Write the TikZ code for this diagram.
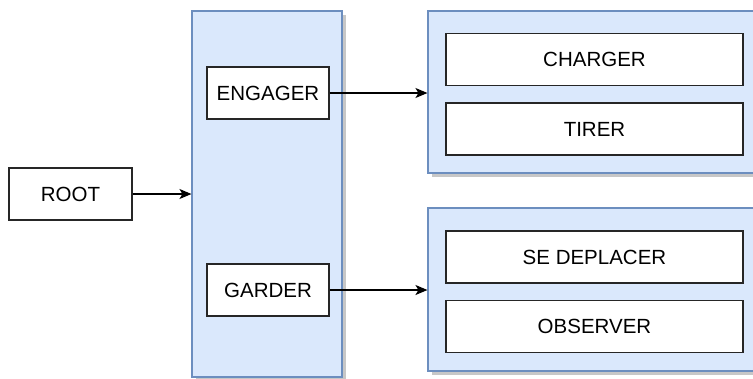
\documentclass[tikz,border=0pt]{standalone}
\usepackage{fontspec}
\setmainfont{Liberation Sans}
\usetikzlibrary{arrows.meta,positioning,shadows}

\definecolor{groupfill}{HTML}{DAE8FC}
\definecolor{groupline}{HTML}{6C8EBF}

\tikzset{
    task/.style={draw=black!85, line width=1.1pt, fill=white, inner sep=0pt,
        minimum height=52pt, text height=14.7pt, text depth=0pt,
        font=\fontsize{20.5}{24}\selectfont},
    group/.style={draw=groupline, fill=groupfill, line width=1.1pt, inner sep=0pt,
        drop shadow={shadow xshift=4pt, shadow yshift=-4pt, fill=black!22, opacity=1}},
    link/.style={-{Stealth[length=12pt,width=10pt,inset=3pt]}, line width=1.3pt}
}

\begin{document}
\begin{tikzpicture}[x=1pt,y=-1pt]
                \useasboundingbox (0,0) rectangle (753,378);

                % sequences
                \node[group, minimum width=150pt, minimum height=366pt] (seq) at (267,194) {};
                \node[group, minimum width=332pt, minimum height=162pt] (engseq) at (594,92) {};
                \node[group, minimum width=332pt, minimum height=163pt] (garseq) at (594,289.5) {};

                % tasks
                \node[task, minimum width=123pt] (root) at (70.5,194) {ROOT};
                \node[task, minimum width=122pt] (engager) at (268,93) {ENGAGER};
                \node[task, minimum width=122pt] (garder) at (268,290) {GARDER};
                \node[task, minimum width=297pt] (charger) at (594.5,59.5) {CHARGER};
                \node[task, minimum width=297pt] (tirer) at (594.5,129) {TIRER};
                \node[task, minimum width=297pt] (deplacer) at (594.5,257) {SE DEPLACER};
                \node[task, minimum width=297pt] (observer) at (594.5,326.5) {OBSERVER};

                \draw[link] (root.east) -- (root.east -| seq.west);
                \draw[link] (engager.east) -- (engager.east -| engseq.west);
                \draw[link] (garder.east) -- (garder.east -| garseq.west);
            \end{tikzpicture}
\end{document}
